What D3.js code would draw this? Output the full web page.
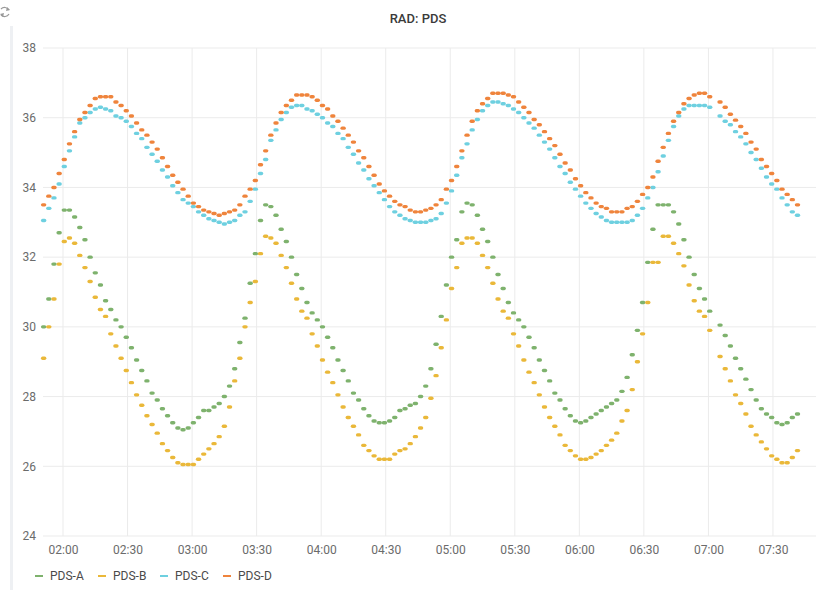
<!DOCTYPE html>
<html>
<head>
<meta charset="utf-8">
<script src="https://cdn.jsdelivr.net/npm/d3@7"></script>
<style>
  body { margin: 0; background: #fff; font-family: Roboto, "Noto Sans", sans-serif; }
  svg { display: block; }
</style>
</head>
<body>
<div id="chart"></div>
<script>
// samples every 2.4 min starting 01:51 (one missing sample at index 130)
const startTime = new Date(2021, 0, 1, 1, 51, 0);
const stepSeconds = 144;

const seriesNames = ["PDS-A", "PDS-B", "PDS-C", "PDS-D"];
const seriesColors = ["#7EB26D", "#EAB839", "#6ED0E0", "#EF843C"];

const pdsA = [
  30.0, 30.8, 31.8, 32.7, 33.35, 33.35, 33.15, 32.85, 32.5, 32.0,
  31.55, 31.2, 30.75, 30.5, 30.2, 30.0, 29.7, 29.4, 29.05, 28.75,
  28.45, 28.1, 27.9, 27.65, 27.45, 27.25, 27.1, 27.05, 27.1, 27.25,
  27.4, 27.6, 27.6, 27.7, 27.8, 28.0, 28.3, 28.8, 29.55, 30.25,
  31.25, 32.1, 33.05, 33.5, 33.45, 33.2, 32.8, 32.45, 32.0, 31.5,
  31.1, 30.7, 30.4, 30.2, 30.0, 29.7, 29.4, 29.05, 28.75, 28.45,
  28.1, 27.9, 27.65, 27.45, 27.3, 27.25, 27.25, 27.3, 27.4, 27.6,
  27.65, 27.75, 27.8, 28.0, 28.3, 28.8, 29.5, 30.3, 31.2, 32.0,
  32.5, 33.3, 33.55, 33.5, 33.2, 32.8, 32.45, 32.0, 31.5, 31.1,
  30.7, 30.4, 30.2, 30.0, 29.7, 29.4, 29.05, 28.75, 28.45, 28.1,
  27.9, 27.65, 27.45, 27.3, 27.25, 27.3, 27.4, 27.5, 27.6, 27.7,
  27.8, 27.9, 28.15, 28.55, 29.2, 29.9, 30.7, 31.85, 32.8, 33.5,
  33.5, 33.5, 33.3, 32.95, 32.5, 32.0, 31.5, 31.1, 30.8, 30.45,
  null, 30.05, 29.75, 29.45, 29.1, 28.8, 28.5, 28.2, 27.9, 27.65,
  27.5, 27.4, 27.25, 27.2, 27.25, 27.4, 27.5
];

const pdsB = [
  29.1, 30.0, 30.8, 31.8, 32.45, 32.55, 32.4, 32.05, 31.7, 31.3,
  30.85, 30.5, 30.3, 29.8, 29.45, 29.1, 28.75, 28.4, 28.05, 27.75,
  27.45, 27.2, 26.95, 26.65, 26.45, 26.25, 26.1, 26.05, 26.05, 26.05,
  26.2, 26.35, 26.5, 26.65, 26.85, 27.15, 27.7, 28.45, 29.1, 30.0,
  30.7, 31.3, 32.1, 32.6, 32.55, 32.4, 32.05, 31.7, 31.25, 30.8,
  30.45, 30.25, 29.8, 29.45, 29.05, 28.7, 28.4, 28.05, 27.7, 27.4,
  27.15, 26.9, 26.6, 26.45, 26.3, 26.2, 26.2, 26.2, 26.35, 26.45,
  26.5, 26.65, 26.85, 27.1, 27.4, 27.95, 28.6, 29.4, 30.2, 31.1,
  31.7, 32.4, 32.55, 32.55, 32.4, 32.05, 31.7, 31.25, 30.8, 30.45,
  30.25, 29.8, 29.45, 29.05, 28.7, 28.4, 28.05, 27.7, 27.4, 27.15,
  26.9, 26.6, 26.45, 26.3, 26.2, 26.2, 26.25, 26.35, 26.45, 26.6,
  26.75, 26.95, 27.3, 27.6, 28.2, 29.0, 29.8, 30.7, 31.85, 31.85,
  32.6, 32.6, 32.4, 32.1, 31.75, 31.2, 30.75, 30.45, 30.3, 29.9,
  null, 29.15, 28.8, 28.45, 28.05, 27.8, 27.5, 27.15, 26.9, 26.7,
  26.5, 26.3, 26.2, 26.1, 26.1, 26.25, 26.45
];

const pdsC = [
  33.05, 33.4, 33.7, 34.1, 34.6, 35.05, 35.45, 35.85, 36.0, 36.15,
  36.25, 36.3, 36.25, 36.2, 36.05, 36.0, 35.9, 35.75, 35.55, 35.4,
  35.15, 34.95, 34.75, 34.5, 34.3, 34.05, 33.85, 33.65, 33.55, 33.45,
  33.3, 33.2, 33.1, 33.05, 33.0, 32.95, 33.0, 33.05, 33.2, 33.3,
  33.6, 33.95, 34.4, 34.8, 35.35, 35.65, 35.95, 36.15, 36.3, 36.35,
  36.35, 36.25, 36.2, 36.1, 36.0, 35.85, 35.75, 35.55, 35.4, 35.15,
  34.95, 34.7, 34.5, 34.25, 34.05, 33.85, 33.65, 33.45, 33.3, 33.2,
  33.1, 33.05, 33.0, 33.0, 33.0, 33.05, 33.1, 33.25, 33.55, 33.9,
  34.35, 34.85, 35.25, 35.65, 35.95, 36.2, 36.35, 36.45, 36.45, 36.4,
  36.35, 36.25, 36.15, 36.0, 35.85, 35.7, 35.5, 35.3, 35.1, 34.85,
  34.6, 34.4, 34.15, 33.95, 33.75, 33.55, 33.4, 33.25, 33.15, 33.05,
  33.0, 33.0, 33.0, 33.0, 33.05, 33.2, 33.4, 33.7, 34.0, 34.45,
  34.9, 35.35, 35.75, 36.05, 36.25, 36.35, 36.35, 36.35, 36.35, 36.3,
  null, 36.05, 35.9, 35.8, 35.6, 35.45, 35.25, 35.0, 34.8, 34.55,
  34.3, 34.1, 33.95, 33.7, 33.5, 33.3, 33.2
];

const pdsD = [
  33.5, 33.75, 34.0, 34.4, 34.8, 35.25, 35.6, 35.95, 36.15, 36.35,
  36.55, 36.6, 36.6, 36.6, 36.45, 36.35, 36.2, 36.05, 35.85, 35.65,
  35.5, 35.3, 35.1, 34.85, 34.6, 34.35, 34.15, 33.95, 33.75, 33.55,
  33.45, 33.35, 33.3, 33.25, 33.2, 33.25, 33.3, 33.35, 33.5, 33.75,
  33.95, 34.2, 34.65, 35.05, 35.5, 35.85, 36.15, 36.35, 36.5, 36.65,
  36.65, 36.65, 36.6, 36.5, 36.35, 36.25, 36.05, 35.9, 35.7, 35.5,
  35.3, 35.05, 34.85, 34.6, 34.35, 34.1, 33.9, 33.75, 33.6, 33.5,
  33.45, 33.35, 33.3, 33.3, 33.35, 33.4, 33.5, 33.65, 33.95, 34.2,
  34.6, 35.05, 35.5, 35.9, 36.2, 36.4, 36.55, 36.7, 36.7, 36.7,
  36.65, 36.6, 36.45, 36.3, 36.15, 35.95, 35.8, 35.6, 35.4, 35.2,
  34.95, 34.7, 34.5, 34.25, 34.05, 33.85, 33.7, 33.55, 33.45, 33.4,
  33.3, 33.3, 33.3, 33.4, 33.45, 33.6, 33.8, 34.0, 34.3, 34.75,
  35.15, 35.55, 35.9, 36.15, 36.4, 36.55, 36.65, 36.7, 36.7, 36.6,
  null, 36.45, 36.3, 36.1, 35.93, 35.75, 35.55, 35.3, 35.1, 34.8,
  34.6, 34.4, 34.2, 33.95, 33.8, 33.65, 33.5
];

const yTicks = [24, 26, 28, 30, 32, 34, 36, 38];

const W = 835, H = 590;
const margin = { top: 48, right: 19, bottom: 54, left: 43 },
      width = W - margin.left - margin.right,
      height = H - margin.top - margin.bottom;

const svgRoot = d3.select("#chart").append("svg")
  .attr("width", W)
  .attr("height", H);

// panel edge + refresh icon
svgRoot.append("rect")
  .attr("x", 10).attr("y", 26).attr("width", 3).attr("height", H - 26)
  .attr("fill", "#eef0f3");
svgRoot.append("path")
  .attr("d", "M1,9 A5,5 0 0 1 9,10 M9,14 A5,5 0 0 1 1,15")
  .attr("fill", "none").attr("stroke", "#999").attr("stroke-width", 1.2);
svgRoot.append("path").attr("d", "M7,7 L10,10 L6,11 Z").attr("fill", "#999");
svgRoot.append("path").attr("d", "M3,17 L0,14 L4,13 Z").attr("fill", "#999");

svgRoot.append("text")
  .attr("x", 418).attr("y", 23)
  .attr("text-anchor", "middle")
  .attr("font-size", 13).attr("font-weight", 500)
  .attr("fill", "#3a3a3a")
  .text("RAD: PDS");

const svg = svgRoot.append("g")
  .attr("transform", `translate(${margin.left},${margin.top})`);

const x = d3.scaleTime()
  .domain([new Date(2021, 0, 1, 1, 50, 42), new Date(2021, 0, 1, 7, 50, 0)])
  .range([0, width]);

const y = d3.scaleLinear()
  .domain([24, 38])
  .range([height, 0]);

const xTicks = x.ticks(d3.timeMinute.every(30));

// grid
svg.append("g").selectAll("line.h")
  .data(yTicks).enter().append("line")
  .attr("x1", 0).attr("x2", width)
  .attr("y1", d => y(d)).attr("y2", d => y(d))
  .attr("stroke", "#ebebeb");
svg.append("g").selectAll("line.v")
  .data(xTicks).enter().append("line")
  .attr("x1", d => x(d)).attr("x2", d => x(d))
  .attr("y1", 0).attr("y2", height)
  .attr("stroke", "#ebebeb");

// axes (labels only)
const yAxis = svg.append("g")
  .call(d3.axisLeft(y).tickValues(yTicks).tickSize(0).tickPadding(7));
const xAxis = svg.append("g")
  .attr("transform", `translate(0,${height})`)
  .call(d3.axisBottom(x).tickValues(xTicks).tickFormat(d3.timeFormat("%H:%M")).tickSize(0).tickPadding(9));
[yAxis, xAxis].forEach(a => {
  a.select(".domain").remove();
  a.selectAll("text")
    .attr("font-family", "Roboto, 'Noto Sans', sans-serif")
    .attr("font-size", 12)
    .attr("fill", "#6b6b6b");
});

// points, drawn as short round-capped dashes
const seriesData = [pdsA, pdsB, pdsC, pdsD];
seriesData.forEach((vals, si) => {
  const pts = vals.map((v, i) => ({ t: new Date(+startTime + i * stepSeconds * 1000), v }))
    .filter(d => d.v !== null);
  svg.append("g").selectAll("line")
    .data(pts).enter().append("line")
    .attr("x1", d => x(d.t) - 1)
    .attr("x2", d => x(d.t) + 1)
    .attr("y1", d => y(d.v))
    .attr("y2", d => y(d.v))
    .attr("stroke", seriesColors[si])
    .attr("stroke-width", 3.4)
    .attr("stroke-linecap", "round");
});

// legend
const legendX = [35, 98, 160, 223];
const legend = svgRoot.append("g").attr("transform", "translate(0,576)");
seriesNames.forEach((name, i) => {
  legend.append("line")
    .attr("x1", legendX[i]).attr("x2", legendX[i] + 8)
    .attr("y1", 0).attr("y2", 0)
    .attr("stroke", seriesColors[i]).attr("stroke-width", 2);
  legend.append("text")
    .attr("x", legendX[i] + 15).attr("y", 4)
    .attr("font-size", 12).attr("fill", "#4a4a4a")
    .text(name);
});
</script>
</body>
</html>
